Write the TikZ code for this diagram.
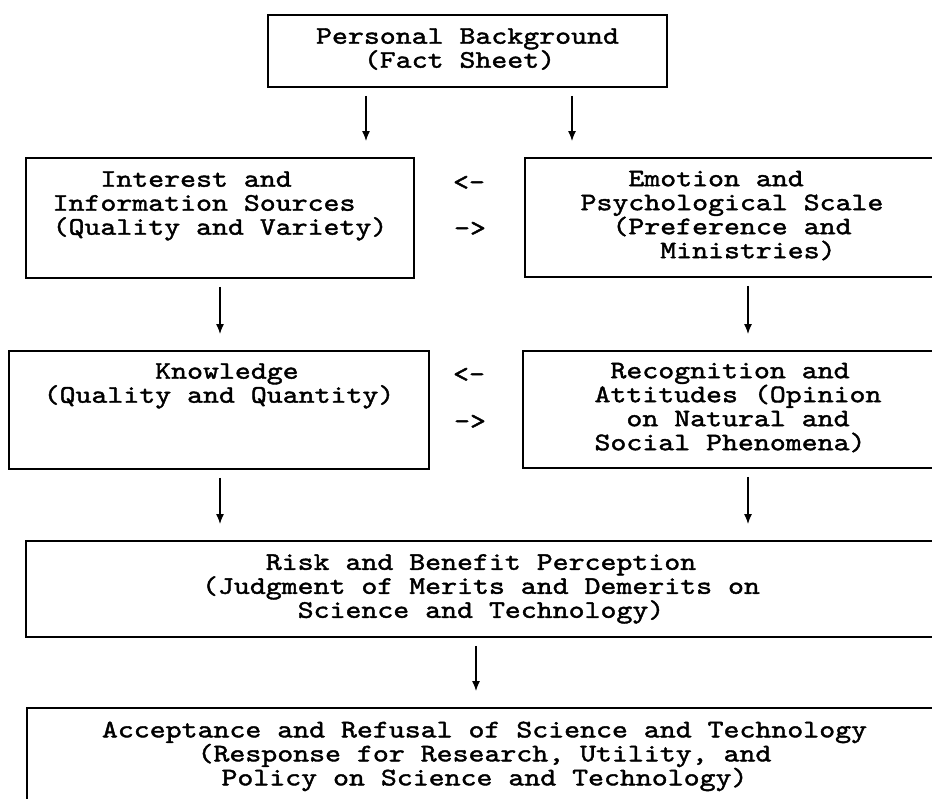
\documentclass[tikz,border=0pt]{standalone}
\usepackage{fontspec}
\newfontfamily\tw{lmmono10-regular.otf}[FakeStretch=1.2, FakeBold=1.6]
\usetikzlibrary{arrows.meta}

\newcommand{\boxfont}{\tw\fontsize{25.3pt}{24pt}\selectfont\lineskiplimit=-24pt\relax}
\newcommand{\lnstrut}{\rule[-6pt]{0pt}{26pt}}

\tikzset{
  box/.style={draw, line width=1.9pt, inner sep=0pt, font=\boxfont,
    execute at begin node=\lnstrut, execute at end node=\lnstrut},
  arr/.style={line width=1.4pt, -{Latex[length=10pt,width=8pt]},
    shorten <=8pt, shorten >=16pt},
  sign/.style={font=\boxfont, inner sep=0pt}
}

\begin{document}
\begin{tikzpicture}[x=1pt,y=-1pt]
\useasboundingbox (0,0) rectangle (932,799);
\clip (0,0) rectangle (932,799);

% boxes
\node[box, align=left, minimum width=399pt, minimum height=72pt] (bg) at (467.5,51)
  {Personal Background\\\ \ \ (Fact Sheet)};
\node[box, align=left, minimum width=388pt, minimum height=120pt] (int) at (220,218)
  {\ \ \ Interest and\\Information Sources\\(Quality and Variety)\\ };
\node[box, align=left, minimum width=414pt, minimum height=119pt] (emo) at (732,217.5)
  {\ \ \ Emotion and\\Psychological Scale\\\ \ (Preference and\\\ \ \ \ \ Ministries)};
\node[box, align=left, minimum width=420pt, minimum height=118pt] (know) at (219,410)
  {\ \ \ \ \ \ \ Knowledge\\(Quality and Quantity)\\ \\ };
\node[box, align=left, minimum width=430pt, minimum height=117pt] (rec) at (738,409.5)
  {\ Recognition and\\Attitudes (Opinion\\\ \ on Natural and\\Social Phenomena)};
\node[box, align=center, minimum width=910pt, minimum height=96pt] (risk) at (481,589)
  {Risk and Benefit Perception\\(Judgment of Merits and Demerits on\\Science and Technology)};
\node[box, align=center, minimum width=915pt, minimum height=97pt] (acc) at (484.5,756.5)
  {Acceptance and Refusal of Science and Technology\\(Response for Research, Utility, and\\Policy on Science and Technology)};

% two-way signs
\node[sign] (l1) at (469,183) {<–};
\node[sign] (r1) at (470,229) {->};
\node[sign] (l2) at (469,375) {<–};
\node[sign] (r2) at (470,422) {->};

% arrow columns
\coordinate (cA) at (366,0);
\coordinate (cB) at (572,0);
\coordinate (cL) at (220,0);
\coordinate (cR) at (748,0);
\coordinate (cM) at (476,0);

\draw[arr] (bg.south -| cA) -- (int.north -| cA);
\draw[arr] (bg.south -| cB) -- (emo.north -| cB);
\draw[arr] (int.south -| cL) -- (know.north -| cL);
\draw[arr] (emo.south -| cR) -- (rec.north -| cR);
\draw[arr] (know.south -| cL) -- (risk.north -| cL);
\draw[arr] (rec.south -| cR) -- (risk.north -| cR);
\draw[arr] (risk.south -| cM) -- (acc.north -| cM);

\end{tikzpicture}
\end{document}
